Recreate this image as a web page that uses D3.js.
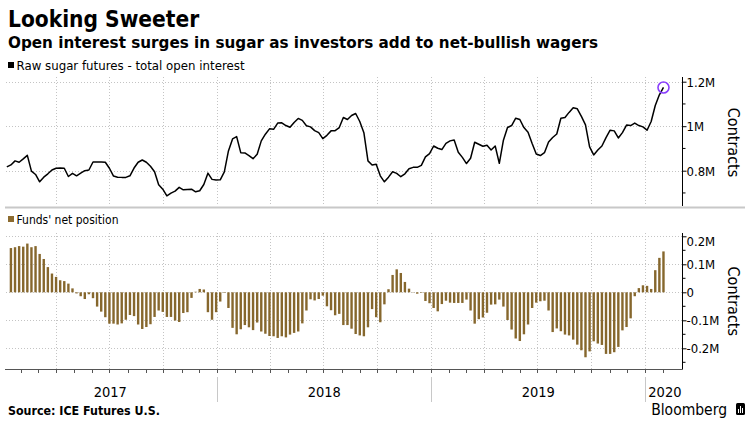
<!DOCTYPE html>
<html><head><meta charset="utf-8">
<script src="https://cdn.jsdelivr.net/npm/d3@7"></script>
<style>
body{margin:0;background:#fff}
svg{display:block}
text{font-family:"DejaVu Sans Condensed","Liberation Sans Narrow","DejaVu Sans",sans-serif;font-stretch:condensed;fill:#000}
</style></head><body>
<svg id="c" width="750" height="427"></svg>
<script>
// Raw sugar futures - total open interest (millions of contracts), weekly from 2017-01-07
const openInterest = [
0.817,0.826,0.844,0.838,0.853,0.869,0.798,0.783,0.750,0.771,
0.786,0.803,0.811,0.812,0.811,0.774,0.788,0.777,0.789,0.800,
0.803,0.839,0.839,0.839,0.838,0.811,0.776,0.771,0.770,0.770,
0.777,0.812,0.838,0.848,0.838,0.820,0.795,0.737,0.717,0.687,
0.699,0.708,0.725,0.714,0.716,0.717,0.705,0.710,0.738,0.789,
0.761,0.758,0.759,0.795,0.889,
0.943,0.953,0.881,0.880,0.868,0.854,0.874,0.934,0.964,0.988,
0.986,1.014,1.015,1.003,0.995,1.017,1.035,1.026,1.002,0.997,
0.980,0.971,0.944,0.959,0.979,0.980,0.994,1.039,1.030,1.048,
1.057,1.021,0.971,0.844,0.826,0.829,0.777,0.750,0.771,0.795,
0.788,0.773,0.786,0.809,0.815,0.815,0.824,0.862,0.877,0.911,
0.901,0.895,0.923,0.934,
0.938,0.883,0.860,0.832,0.856,0.928,0.919,0.910,0.914,0.893,
0.911,0.833,0.937,0.994,1.003,1.036,1.030,0.994,0.973,0.922,
0.875,0.868,0.881,0.929,0.949,0.965,1.036,1.039,1.062,1.083,
1.078,1.044,1.006,0.907,0.871,0.893,0.911,0.949,0.982,0.979,
0.947,0.971,1.005,1.003,1.014,1.003,0.997,0.982,1.021,1.093,
1.141,1.174];
const openInterestStart = "2017-01-07";

// Funds' net position (millions of contracts), weekly from 2017-01-14
const netPosition = [
0.158,0.161,0.165,0.163,0.174,0.161,0.165,0.137,0.119,0.090,
0.067,0.055,0.043,0.040,0.031,0.014,-0.004,-0.014,-0.024,-0.007,
-0.021,-0.051,-0.069,-0.089,-0.112,-0.112,-0.115,-0.111,-0.098,-0.081,
-0.085,-0.115,-0.131,-0.124,-0.114,-0.088,-0.065,-0.070,-0.088,-0.088,
-0.101,-0.106,-0.074,-0.071,-0.020,0.002,0.012,0.010,-0.071,-0.098,
-0.071,-0.033,-0.002,-0.056,
-0.127,-0.150,-0.132,-0.117,-0.125,-0.135,-0.108,-0.140,-0.148,-0.156,
-0.157,-0.163,-0.157,-0.161,-0.151,-0.145,-0.140,-0.111,-0.065,-0.025,
-0.029,-0.024,-0.012,-0.050,-0.064,-0.082,-0.077,-0.117,-0.117,-0.130,
-0.149,-0.154,-0.157,-0.125,-0.060,-0.089,-0.107,-0.043,0.011,0.062,
0.082,0.069,0.037,0.013,0.001,-0.005,-0.002,-0.031,-0.039,-0.056,
-0.068,-0.042,-0.030,-0.037,
-0.038,-0.038,-0.038,-0.026,-0.065,-0.112,-0.096,-0.090,-0.073,-0.044,
-0.043,-0.026,-0.051,-0.099,-0.133,-0.165,-0.174,-0.150,-0.115,-0.056,
-0.037,-0.032,-0.030,-0.065,-0.142,-0.129,-0.139,-0.151,-0.154,-0.169,
-0.187,-0.207,-0.232,-0.211,-0.175,-0.183,-0.188,-0.220,-0.220,-0.214,
-0.195,-0.136,-0.124,-0.093,-0.014,0.015,0.025,0.023,0.012,0.079,
0.123,0.146];
const netPositionStart = "2017-01-14";

const topTicks = [0.8, 1.0, 1.2];
const topTickLabels = ["0.8M", "1M", "1.2M"];
const topMinorTicks = [0.7, 0.9, 1.1];
const bottomTicks = [-0.2, -0.1, 0, 0.1, 0.2];
const bottomTickLabels = ["-0.2M", "-0.1M", "0", "0.1M", "0.2M"];
const bottomMinorTicks = [-0.25, -0.15, -0.05, 0.05, 0.15];
const yearLabels = ["2017", "2018", "2019", "2020"];

const title = "Looking Sweeter";
const subtitle = "Open interest surges in sugar as investors add to net-bullish wagers";
const legendTop = "Raw sugar futures - total open interest";
const legendBottom = "Funds' net position";
const axisTitle = "Contracts";
const source = "Source: ICE Futures U.S.";

const parse = d3.timeParse("%Y-%m-%d");
const weekly = (start, n) => d3.range(n).map(i => d3.timeDay.offset(parse(start), 7 * i));
const oiData = weekly(openInterestStart, openInterest.length).map((d, i) => ({date: d, value: openInterest[i]}));
const npData = weekly(netPositionStart, netPosition.length).map((d, i) => ({date: d, value: netPosition[i]}));

const svg = d3.select("#c");
const plotL = 6, plotR = 682;
const x = d3.scaleTime().domain([new Date(2017,0,1), new Date(2020,0,1)]).range([3.3, 645.3]);
const yTop = d3.scaleLinear().domain([0.8, 1.2]).range([170.7, 81.7]);
const yBot = d3.scaleLinear().domain([-0.2, 0.2]).range([348.3, 236.3]);
const topY0 = 77, topY1 = 206, botY0 = 233, botY1 = 369.5;

const gridColor = "#c4c4c4";
const quarters = d3.timeMonth.every(3).range(new Date(2017,3,1), new Date(2020,1,1));

// Titles
svg.append("text").attr("x", 8).attr("y", 27).attr("font-size", 22.5).attr("font-weight", "bold").text(title);
svg.append("text").attr("x", 8).attr("y", 48).attr("font-size", 16.5).attr("font-weight", "bold")
  .attr("textLength", 590).attr("lengthAdjust", "spacingAndGlyphs").text(subtitle);

// Legends
svg.append("rect").attr("x", 8).attr("y", 62).attr("width", 6).attr("height", 6).attr("fill", "#000");
svg.append("text").attr("x", 16.5).attr("y", 69.5).attr("font-size", 12.5).attr("textLength", 228).attr("lengthAdjust", "spacingAndGlyphs").text(legendTop);
svg.append("rect").attr("x", 8).attr("y", 216).attr("width", 6).attr("height", 6).attr("fill", "#8c6b2f");
svg.append("text").attr("x", 16.5).attr("y", 223.5).attr("font-size", 12.5).attr("textLength", 102).attr("lengthAdjust", "spacingAndGlyphs").text(legendBottom);

function grid(y, ticks, y0, y1) {
  const g = svg.append("g").attr("stroke", gridColor).attr("stroke-width", 1).attr("stroke-dasharray", "1,2");
  g.selectAll("line.h").data(ticks).join("line").attr("class","h")
    .attr("x1", plotL).attr("x2", plotR).attr("y1", d => Math.round(y(d)) + 0.5).attr("y2", d => Math.round(y(d)) + 0.5);
  g.selectAll("line.v").data(quarters).join("line").attr("class","v")
    .attr("x1", d => Math.round(x(d)) + 0.5).attr("x2", d => Math.round(x(d)) + 0.5).attr("y1", y0).attr("y2", y1);
}
grid(yTop, topTicks, topY0, topY1);
grid(yBot, bottomTicks, botY0, botY1);

// Top line
const line = d3.line().x(d => x(d.date)).y(d => yTop(d.value));
svg.append("path").datum(oiData).attr("d", line).attr("fill", "none").attr("stroke", "#000").attr("stroke-width", 1.5).attr("stroke-linejoin", "round");
const last = oiData[oiData.length - 1];
svg.append("circle").attr("cx", x(last.date)).attr("cy", yTop(last.value)).attr("r", 5.5)
  .attr("fill", "none").attr("stroke", "#8a3ffc").attr("stroke-width", 1.6);

// Bars
svg.append("g").selectAll("rect").data(npData).join("rect")
  .attr("x", d => x(d.date) - 1.2).attr("width", 2.4)
  .attr("y", d => Math.min(yBot(d.value), yBot(0)))
  .attr("height", d => Math.abs(yBot(d.value) - yBot(0)))
  .attr("fill", "#86672d");

// Right axes
function rightAxis(y, ticks, labels, minor, y0, y1, labelShift) {
  const g = svg.append("g").attr("transform", `translate(${plotR + 0.5},0)`);
  g.append("line").attr("y1", y0).attr("y2", y1).attr("stroke", "#000");
  const ax = d3.axisRight(y).tickValues(ticks).tickSize(4).tickFormat((d, i) => labels[i]);
  const ag = g.append("g").call(ax);
  ag.select(".domain").remove();
  ag.selectAll("text").attr("font-size", 13).attr("x", 4)
    .attr("dy", (d, i) => (labelShift && i === ticks.length - 1) ? "0.7em" : "0.36em");
  ag.selectAll("line").attr("stroke", "#000");
  ag.attr("font-family", null).attr("font-size", null);
  g.selectAll("line.minor").data(minor).join("line").attr("class", "minor")
    .attr("x1", 0).attr("x2", 3).attr("y1", d => y(d)).attr("y2", d => y(d)).attr("stroke", "#000");
}
rightAxis(yTop, topTicks, topTickLabels, topMinorTicks, topY0, topY1, false);
rightAxis(yBot, bottomTicks, bottomTickLabels, bottomMinorTicks, botY0, botY1, true);

svg.append("text").attr("transform", `translate(728,${(topY0 + topY1) / 2 + 1}) rotate(90)`)
  .attr("text-anchor", "middle").attr("font-size", 16).text(axisTitle);
svg.append("text").attr("transform", `translate(728,${(botY0 + botY1) / 2}) rotate(90)`)
  .attr("text-anchor", "middle").attr("font-size", 16).text(axisTitle);

// Panel separator
svg.append("line").attr("x1", 5).attr("x2", 745).attr("y1", 207.5).attr("y2", 207.5).attr("stroke", "#c8c8c8").attr("stroke-width", 2);

// Bottom time axis with monthly ticks
const months = d3.timeMonth.range(new Date(2017,1,1), new Date(2020,1,2));
const bx = svg.append("g");
bx.append("line").attr("x1", 5).attr("x2", plotR + 0.5).attr("y1", 369.5).attr("y2", 369.5).attr("stroke", "#555");
bx.selectAll("line.m").data(months).join("line").attr("class","m")
  .attr("x1", d => Math.round(x(d)) + 0.5).attr("x2", d => Math.round(x(d)) + 0.5)
  .attr("y1", 369.5).attr("y2", 373).attr("stroke", "#555");

const yearStarts = yearLabels.map(y => new Date(+y, 0, 1));
svg.selectAll("line.ysep").data(yearStarts.slice(1)).join("line").attr("class","ysep")
  .attr("x1", d => Math.round(x(d)) + 0.5).attr("x2", d => Math.round(x(d)) + 0.5)
  .attr("y1", 377).attr("y2", 402).attr("stroke", "#c8c8c8");
svg.selectAll("text.year").data(yearLabels).join("text").attr("class","year")
  .attr("x", (d, i) => i < 3 ? (x(yearStarts[i]) + x(new Date(+d + 1, 0, 1))) / 2 : x(yearStarts[i]) + 3)
  .attr("text-anchor", (d, i) => i < 3 ? "middle" : "start")
  .attr("y", 397).attr("font-size", 14.5).text(d => d);

// Footer
svg.append("text").attr("x", 8).attr("y", 415).attr("font-size", 13).attr("font-weight", "bold")
  .attr("textLength", 152).attr("lengthAdjust", "spacingAndGlyphs").text(source);
svg.append("text").attr("x", 727).attr("y", 415).attr("text-anchor", "end").attr("font-size", 15.5).text("Bloomberg");
const logo = svg.append("g").attr("transform", "translate(736,403)");
logo.append("rect").attr("width", 9).attr("height", 12).attr("rx", 1.5).attr("fill", "#000");
[[2,6],[4,3],[6,5]].forEach(([lx, ly]) => logo.append("line").attr("x1", lx + 0.5).attr("x2", lx + 0.5).attr("y1", ly).attr("y2", 10).attr("stroke", "#fff").attr("stroke-width", 1));
</script>
</body></html>
